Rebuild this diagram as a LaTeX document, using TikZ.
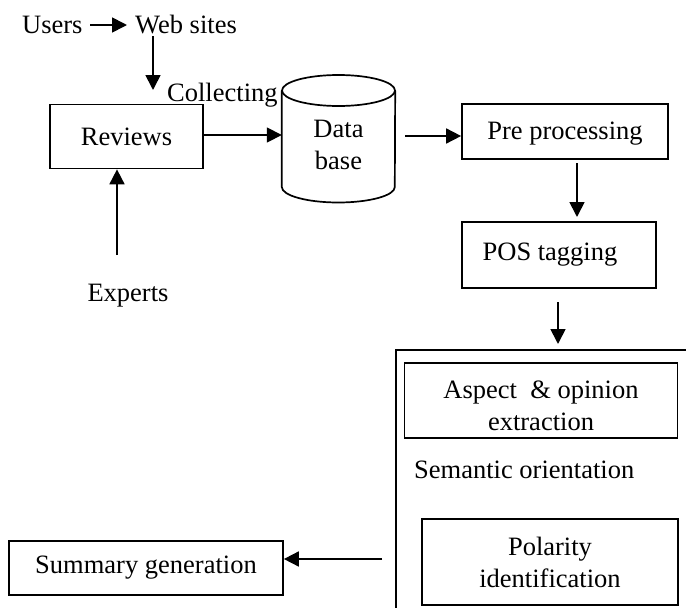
\documentclass[tikz,border=0pt]{standalone}
\usepackage{fontspec}
\setmainfont{Liberation Serif}
\usetikzlibrary{arrows.meta}
\tikzset{
  every node/.style={font=\fontsize{26.5pt}{32pt}\selectfont, inner sep=0pt},
  stepbox/.style={draw, line width=1.7pt, align=center},
  arr/.style={line width=1.7pt, -{Triangle[length=15pt,width=15pt]}},
  plain/.style={line width=1.7pt}
}
\begin{document}
\begin{tikzpicture}[x=1pt,y=-1pt]
\useasboundingbox (0,0) rectangle (686,608);
\clip (0,0) rectangle (686,608);
% top texts
\node[anchor=base west] (users) at (22,33) {Users};
\node[anchor=base west] (web) at (135,33) {Web sites};
\node[anchor=base west] (collect) at (167,101) {Collecting};
\node[anchor=base] (experts) at (128,301) {Experts};
% boxes
\node[stepbox, minimum width=153pt, minimum height=64pt] (reviews) at (126.5,136.5) {Reviews};
\node[minimum width=113pt, minimum height=127pt] (db) at (338.5,138.5) {};
\node[align=center] (dbtext) at (338.5,145) {Data\\base};
\node[stepbox, minimum width=206pt, minimum height=55pt] (pre) at (565,131.5) {};
\node (pretext) at (565,134) {Pre processing};
\node[stepbox, minimum width=194pt, minimum height=66pt] (pos) at (559,255) {POS tagging\hspace{18pt}};
\node[draw, line width=1.7pt, minimum width=320pt, minimum height=300pt, anchor=north west] (frame) at (395,349) {};
\node[stepbox, minimum width=273pt, minimum height=75pt] (aspect) at (541,400.5) {};
\node[align=center] (aspecttext) at (541,406) {Aspect~ \& opinion\\extraction};
\node[anchor=west] (sem) at (414,470) {Semantic orientation};
\node[stepbox, minimum width=256pt, minimum height=86pt] (pol) at (550,562) {Polarity\\identification};
\node[stepbox, minimum width=274pt, minimum height=54pt] (summary) at (146,568) {Summary generation};
% cylinder
\draw[plain] (db.north west |- 0,90.5) -- (db.south west |- 0,187)
  arc[start angle=180, end angle=0, x radius=56.5, y radius=15.5]
  -- (db.north east |- 0,90.5);
\draw[plain] (338.5,90.5) ellipse [x radius=56.5, y radius=15.5];
% coordinates
\coordinate (ua) at (90,25);
\coordinate (wa) at (127,25);
\coordinate (wb) at (153,36);
\coordinate (wc) at (153,90);
\coordinate (ea) at (117,255);
\coordinate (dbout) at (405,136);
\coordinate (pa) at (577,163);
\coordinate (pb) at (577,217);
\coordinate (qa) at (558,302);
\coordinate (qb) at (558,344);
\coordinate (sa) at (382,559);
% connectors
\draw[arr] (ua) -- (wa);
\draw[arr] (wb) -- (wc);
\draw[arr] (ea) -- (reviews.south -| ea);
\draw[arr] (reviews.east |- 0,135) -- (db.west |- 0,135);
\draw[arr] (dbout) -- (pre.west |- dbout);
\draw[arr] (pa) -- (pb);
\draw[arr] (qa) -- (qb);
\draw[arr] (sa) -- (summary.east |- sa);
\end{tikzpicture}
\end{document}
